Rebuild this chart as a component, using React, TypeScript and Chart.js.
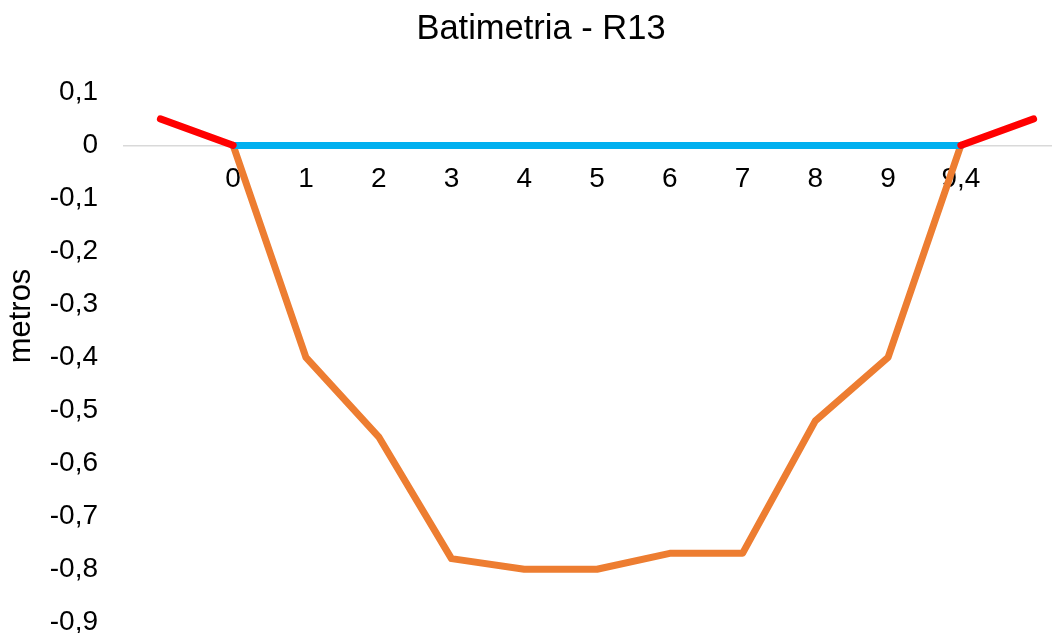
import React, { useEffect, useRef } from "react";
import { Chart, registerables } from "chart.js";

Chart.register(...registerables);

const chartTitle = "Batimetria - R13";
const yAxisTitle = "metros";
const xLabels = ["", "0", "1", "2", "3", "4", "5", "6", "7", "8", "9", "9,4", ""];
const depth = [null, 0, -0.4, -0.55, -0.78, -0.8, -0.8, -0.77, -0.77, -0.52, -0.4, 0, null];
const waterSurface = [null, 0, 0, 0, 0, 0, 0, 0, 0, 0, 0, 0, null];
const bankLeft = [0.05, 0, null, null, null, null, null, null, null, null, null, null, null];
const bankRight = [null, null, null, null, null, null, null, null, null, null, null, 0, 0.05];
const yTicks = [0.1, 0, -0.1, -0.2, -0.3, -0.4, -0.5, -0.6, -0.7, -0.8, -0.9];

const FONT = '"Liberation Sans", Arial, sans-serif';

const toPoints = (arr: (number | null)[]) =>
  arr.map((v, i) => ({ x: i, y: v }));

const yTitlePlugin = {
  id: "yTitleText",
  afterDraw(chart: any) {
    const { ctx } = chart;
    ctx.save();
    ctx.translate(21, 316);
    ctx.rotate(-Math.PI / 2);
    ctx.font = `31px ${FONT}`;
    ctx.fillStyle = "#000";
    ctx.textAlign = "center";
    ctx.textBaseline = "middle";
    ctx.fillText(yAxisTitle, 0, 0);
    ctx.restore();
  },
};

export default function App() {
  const ref = useRef<HTMLCanvasElement>(null);
  useEffect(() => {
    document.body.style.margin = "0";
    const lineStyle = {
      borderWidth: 7,
      pointRadius: 0,
      borderCapStyle: "round" as const,
      borderJoinStyle: "round" as const,
      tension: 0,
    };
    const chart = new Chart(ref.current!, {
      type: "line",
      data: {
        datasets: [
          { ...lineStyle, label: "margem esq", data: toPoints(bankLeft), borderColor: "#FF0000" },
          { ...lineStyle, label: "margem dir", data: toPoints(bankRight), borderColor: "#FF0000" },
          { ...lineStyle, label: "lâmina", data: toPoints(waterSurface), borderColor: "#00B0F0" },
          { ...lineStyle, label: "fundo", data: toPoints(depth), borderColor: "#ED7D31" },
        ],
      },
      options: {
        responsive: false,
        animation: false,
        layout: { padding: { left: 0, right: 12, top: 0, bottom: 0 } },
        plugins: {
          legend: { display: false },
          tooltip: { enabled: false },
          title: {
            display: true,
            text: chartTitle,
            color: "#000",
            font: { family: FONT, size: 34.5, weight: "normal" },
            padding: { top: 9, bottom: 42 },
          },
        },
        scales: {
          x: {
            type: "linear",
            min: -0.5,
            max: 12.5,
            position: { y: 0 } as any,
            afterFit: (s: any) => {
              s.height = 0;
            },
            afterBuildTicks: (s: any) => {
              s.ticks = xLabels.map((_, i) => ({ value: i }));
            },
            grid: { display: false, drawTicks: false },
            border: { display: true, color: "#D9D9D9", width: 1.5 },
            ticks: {
              autoSkip: false,
              maxRotation: 0,
              padding: 17,
              color: "#000",
              font: { family: FONT, size: 28 },
              callback: (v: any) => xLabels[Math.round(Number(v))] ?? "",
            },
          },
          y: {
            type: "linear",
            min: -0.9,
            max: 0.1,
            afterFit: (s: any) => {
              s.width = 124;
            },
            afterBuildTicks: (s: any) => {
              s.ticks = yTicks.map((v) => ({ value: v }));
            },
            grid: { display: false, drawTicks: false },
            border: { display: false },
            ticks: {
              padding: 26,
              color: "#000",
              font: { family: FONT, size: 28 },
              callback: (v: any) => String(Math.round(Number(v) * 10) / 10).replace(".", ","),
            },
          },
          yRightSpacer: {
            type: "linear",
            position: "right",
            min: -0.9,
            max: 0.1,
            afterFit: (s: any) => {
              s.width = 12;
            },
            grid: { display: false, drawTicks: false },
            border: { display: false },
            ticks: { display: false },
          },
        },
      },
      plugins: [yTitlePlugin],
    });
    return () => chart.destroy();
  }, []);

  return (
    <div style={{ position: "absolute", left: 0, top: 0, width: 1052, height: 633, overflow: "hidden", background: "#fff" }}>
      <canvas ref={ref} width={1094} height={665} style={{ display: "block" }} />
    </div>
  );
}
